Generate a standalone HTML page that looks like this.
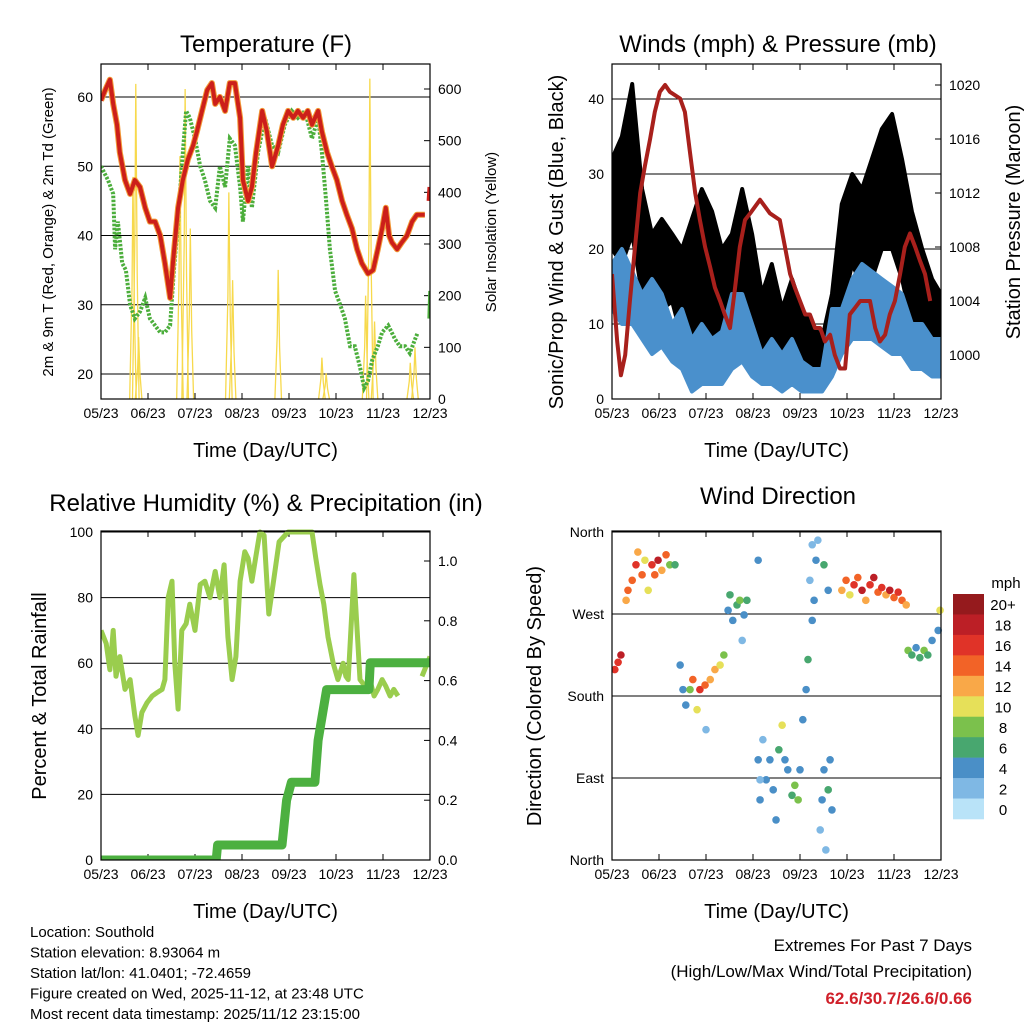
<!DOCTYPE html>
<html><head><meta charset="utf-8"><style>
body{margin:0;background:#fff;}
svg{display:block;font-family:"Liberation Sans",sans-serif;}
</style></head><body>
<svg id="s" width="1024" height="1024" viewBox="0 0 1024 1024"></svg>
<script>
// ---------- DATA ----------
const xTickLabels=["05/23","06/23","07/23","08/23","09/23","10/23","11/23","12/23"];
const tempT=[0,0.09,0.19,0.26,0.34,0.40,0.51,0.62,0.72,0.83,0.94,1.04,1.15,1.26,1.36,1.47,1.53,1.64,1.74,1.85,1.96,2.04,2.15,2.26,2.36,2.43,2.53,2.64,2.74,2.85,2.96,3.02,3.13,3.21,3.30,3.43,3.53,3.64,3.77,3.87,3.98,4.09,4.19,4.30,4.40,4.49,4.62,4.70,4.81,4.91,5.02,5.13,5.23,5.34,5.45,5.55,5.68,5.79,5.89,5.98,6.06,6.13,6.19,6.30,6.40,6.51,6.62,6.72,6.81,6.89];
const tempRed=[59.5,61,62.5,59,56,52,48,46,48,47,44,42,42,40,36,31,36,44,48,51,53,55,58,61,62,59,60,58,62,62,57,48,45,47,52,58,55,50,53,56,58,57,58,57,58,56,58,55,52,50,48,45,43,41,38,36,34.5,35,38,41,44,40,39,38,39,40,42,43,43,43];
const tempEndT=[6.98,7.0];
const tempEndRed=[45,47];
const dewT=[0,0.15,0.26,0.30,0.36,0.45,0.53,0.62,0.72,0.83,0.94,1.04,1.15,1.26,1.36,1.47,1.55,1.64,1.72,1.81,1.89,2.00,2.11,2.21,2.32,2.43,2.53,2.64,2.74,2.85,2.96,3.02,3.13,3.21,3.34,3.49,3.64,3.77,3.91,4.06,4.19,4.34,4.49,4.62,4.70,4.79,4.87,4.98,5.09,5.19,5.30,5.40,5.51,5.60,5.68,5.77,5.89,5.98,6.11,6.26,6.36,6.47,6.57,6.68,6.74];
const dewRed=[50,48,46,38,42,36,35,30,28,29,31,28,27,26,26,27,35,42,50,58,57,54,50,48,45,44,50,47,54,53,47,42,50,44,52,57,53,52,56,58,57,58,54,57,52,45,38,32,30,28,24,24,21,18,19,22,24,26,27,25,24,24,23,25,26];
const dewEndT=[6.98,7.0];
const dewEndVal=[28,32];
const sunT=[0.68,0.74,0.80,1.68,1.79,1.90,2.72,2.80,3.77,4.70,4.79,5.63,5.72,5.82,6.58,6.68];
const sunV=[430,610,120,470,600,330,400,230,250,80,50,200,620,150,70,100];
const windT=[0,0.21,0.43,0.64,0.85,1.06,1.28,1.49,1.70,1.91,2.13,2.34,2.55,2.77,2.98,3.19,3.40,3.62,3.83,4.04,4.26,4.47,4.68,4.89,5.11,5.32,5.53,5.74,5.96,6.17,6.38,6.60,6.81,7.0];
const gustLow=[20,18,22,14,14,12,13,8,4,3,4,4,6,10,8,5,4,3,4,3,2,2,4,12,18,15,16,20,20,16,10,6,4,5];
const gustHigh=[32,35,42,28,22,24,22,20,24,28,25,20,22,28,22,14,18,12,16,12,10,8,14,26,30,28,32,36,38,32,25,20,16,14];
const windLow=[12,10,10,8,6,7,5,4,1,2,2,2,4,5,3,2,2,1,2,1,1,1,3,6,8,8,8,7,6,6,4,4,3,3];
const windHigh=[18,20,17,14,16,14,10,12,8,10,8,9,14,14,10,6,8,6,8,5,4,4,12,12,16,18,17,16,15,14,10,10,8,8];
const presT=[0,0.11,0.19,0.28,0.38,0.49,0.60,0.70,0.81,0.91,1.02,1.13,1.23,1.45,1.55,1.66,1.77,1.87,1.98,2.09,2.19,2.30,2.40,2.51,2.62,2.72,2.83,2.94,3.15,3.36,3.57,3.68,3.79,3.89,4.00,4.11,4.21,4.32,4.43,4.53,4.64,4.74,4.85,4.96,5.06,5.17,5.28,5.38,5.49,5.60,5.70,5.81,5.91,6.02,6.13,6.23,6.34,6.45,6.55,6.66,6.77];
const presVal=[1006,1001,998.5,1000,1004,1008,1012,1014,1016,1018,1019.5,1020,1019.5,1019,1018,1015,1012,1010,1008,1006.5,1005,1004,1003,1002,1005,1008,1010,1010.5,1011.5,1010.5,1010,1008,1006,1005,1004,1003,1003,1002,1002,1001,1001.5,1000,999,999,1003,1003.5,1004,1004,1004,1002,1001,1001.5,1003,1004,1006,1008,1009,1008,1007,1006,1004];
const rhT=[0,0.11,0.19,0.26,0.32,0.40,0.51,0.62,0.72,0.79,0.87,0.98,1.09,1.19,1.30,1.36,1.43,1.51,1.57,1.64,1.72,1.81,1.89,2.00,2.11,2.21,2.32,2.43,2.53,2.62,2.70,2.79,2.87,2.96,3.06,3.13,3.21,3.30,3.38,3.47,3.57,3.68,3.79,3.98,4.19,4.40,4.49,4.57,4.66,4.74,4.83,4.94,5.04,5.15,5.21,5.26,5.38,5.51,5.62,5.72,5.81,5.89,5.98,6.06,6.15,6.23,6.32];
const rhVal=[70,66,58,70,56,62,52,55,44,38,45,48,50,51,52,55,80,85,60,46,70,72,78,70,84,85,80,88,80,90,68,55,62,85,94,92,85,93,100,99,75,86,97,100,100,100,100,92,84,78,68,60,55,60,56,55,87,55,53,55,50,52,55,53,50,52,50];
const rhEndT=[6.83,7.0];
const rhEndVal=[56,62];
const rainT=[0,2.45,2.48,3.85,3.95,4.05,4.55,4.62,4.80,5.70,5.73,7.0];
const rainVal=[0,0,0.05,0.05,0.2,0.26,0.26,0.4,0.57,0.57,0.66,0.66];
const dirT=[0.06,0.13,0.19,0.30,0.34,0.43,0.51,0.55,0.64,0.70,0.77,0.85,0.91,0.98,1.06,1.15,1.23,1.34,1.45,1.51,1.57,1.66,1.72,1.81,1.87,1.98,2.09,2.19,2.30,2.38,2.00,2.47,2.51,2.57,2.66,2.72,2.81,2.77,2.87,3.11,3.11,3.15,3.21,3.28,3.36,3.43,3.49,3.55,3.62,3.68,3.74,3.83,3.89,3.96,4.00,4.06,4.13,4.17,4.21,4.26,4.30,4.34,4.38,4.43,4.47,4.51,4.55,4.60,4.64,4.51,4.60,4.68,4.89,4.98,5.06,5.15,5.23,5.32,5.40,5.49,5.57,5.66,5.74,5.83,5.91,6.00,6.09,6.17,6.26,6.30,6.38,6.47,6.55,6.64,6.72,6.81,6.94,6.98,3.15,4.26];
const dirDeg=[209,217,225,285,296,307,324,338,313,329,296,324,313,329,318,335,324,324,214,187,170,187,198,165,187,192,198,209,214,225,143,274,291,263,280,285,269,241,285,329,110,66,132,88,110,77,44,121,148,110,99,71,82,66,99,154,187,220,307,346,285,329,351,33,66,99,11,77,110,324,296,55,296,307,291,302,310,296,285,302,310,294,299,291,296,288,294,285,280,230,225,233,222,230,225,241,252,274,88,263];
const dirSpd=[16,16,18,12,14,14,16,12,14,10,10,16,14,18,12,14,8,6,4,4,3,8,14,10,16,14,12,12,10,8,2,4,6,3,6,8,4,2,6,4,4,3,2,4,3,4,3,6,10,4,3,6,8,8,4,3,4,5,2,2,3,4,1,2,3,4,2,6,3,6,4,4,12,14,10,16,14,18,12,16,18,14,16,12,18,14,16,14,12,8,6,4,6,8,6,4,4,10,2,4];
const cbLabels=["20+","18","16","14","12","10","8","6","4","2","0"];
const cbColors=["#951a1d","#bc1f26","#e03328","#f26327","#f9a848","#e6e059","#7bc14c","#48a76f","#4a8fc7","#7fb8e4","#b9e3f8"];

// ---------- HELPERS ----------
const S=document.getElementById('s');const NS="http://www.w3.org/2000/svg";
function el(tag,at,parent){const e=document.createElementNS(NS,tag);for(const k in at)e.setAttribute(k,at[k]);(parent||S).appendChild(e);return e;}
function txt(x,y,s,size,anchor,rot,fill,weight){const a={x:x,y:y,'font-size':size,'text-anchor':anchor||'middle',fill:fill||'#000'};if(rot)a.transform=`rotate(${rot} ${x} ${y})`;if(weight)a['font-weight']=weight;const t=el('text',a);t.textContent=s;return t;}
function lin(d0,d1,p0,p1){return v=>p0+(v-d0)/(d1-d0)*(p1-p0);}
function pathOf(ts,vs,X,Y){return ts.map((t,i)=>(i?'L':'M')+X(t).toFixed(1)+','+Y(vs[i]).toFixed(1)).join('');}
const defs=el('defs',{});
let clipN=0;
function clipGroup(x0,x1,y0,y1,name){const id='c'+(clipN++);const cp=el('clipPath',{id:id},defs);el('rect',{x:x0,y:y0,width:x1-x0,height:y1-y0},cp);
  const g=el('g',{'clip-path':`url(#${id})`});return g;}

function frame(x0,x1,y0,y1,name){
  const g=el('g',{});
  const X=lin(0,7,x0,x1);
  xTickLabels.forEach((l,i)=>{const x=X(i);el('line',{x1:x,x2:x,y1:y1,y2:y1-6,stroke:'#000'},g);el('line',{x1:x,x2:x,y1:y0,y2:y0+6,stroke:'#000'},g);
    const t=txt(x,y1+19,l,14);});
  const xt=txt((x0+x1)/2,y1+58,'Time (Day/UTC)',20);
  return X;
}
function border(x0,x1,y0,y1){const r=el('rect',{x:x0,y:y0,width:x1-x0,height:y1-y0,fill:'none',stroke:'#000','stroke-width':1.2});}
function grid(x0,x1,Y,vals,labels,side){
  vals.forEach((v,i)=>{const y=Y(v);
    if(side==='L'){el('line',{x1:x0,x2:x1,y1:y,y2:y,stroke:'#000','stroke-width':1});
      const t=txt(x0-8,y+5,labels[i],14,'end');}
    else{el('line',{x1:x1,x2:x1-6,y1:y,y2:y,stroke:'#000'});
      const t=txt(x1+8,y+5,labels[i],14,'start');}
  });
}

// ---------- PANEL 1: TEMPERATURE ----------
{const x0=101,x1=430,y0=64,y1=399;
 const X=frame(x0,x1,y0,y1,'temperature-panel');
 const Y=lin(20,60,374,97), Ys=lin(0,600,399,89);
 grid(x0,x1,Y,[20,30,40,50,60],["20","30","40","50","60"],'L');
 grid(x0,x1,Ys,[0,100,200,300,400,500,600],["0","100","200","300","400","500","600"],'R');
 const gs=clipGroup(x0,x1,y0,y1,'solar-insolation-series');
 sunT.forEach((t,i)=>{el('path',{d:`M${X(t-0.07)},${Ys(0)}L${X(t-0.02)},${Ys(sunV[i]*0.5)}L${X(t)},${Ys(sunV[i])}L${X(t+0.03)},${Ys(sunV[i]*0.4)}L${X(t+0.07)},${Ys(0)}`,fill:'none',stroke:'#f7d94c','stroke-width':1.3},gs);});
 const gc=clipGroup(x0,x1,y0,y1,'temperature-series-group');
 let p=el('path',{d:pathOf(dewT,dewRed,X,Y),fill:'none',stroke:'#4cae3c','stroke-width':4,'stroke-dasharray':'2.5 1.5'},gc);
 p=el('path',{d:pathOf(dewEndT,dewEndVal,X,Y),fill:'none',stroke:'#4cae3c','stroke-width':3.5},gc);
 p=el('path',{d:pathOf(tempT,tempRed,X,Y),fill:'none',stroke:'#f29a38','stroke-width':6,'stroke-linejoin':'round'},gc);
 p=el('path',{d:pathOf(tempT,tempRed,X,Y),fill:'none',stroke:'#cc1f1a','stroke-width':4,'stroke-linejoin':'round'},gc);
 p=el('path',{d:pathOf(tempEndT,tempEndRed,X,Y),fill:'none',stroke:'#cc1f1a','stroke-width':5},gc);
 border(x0,x1,y0,y1);
 let t=txt(266,52,'Temperature (F)',24);
 t=txt(53,232,'2m & 9m T (Red, Orange) & 2m Td (Green)',15,'middle',-90);
 t=txt(496,232,'Solar Insolation (Yellow)',15,'middle',-90);
}

// ---------- PANEL 2: WINDS ----------
{const x0=612,x1=941,y0=64,y1=399;
 const X=frame(x0,x1,y0,y1,'winds-panel');
 const Y=lin(0,40,399,99), Yp=lin(1000,1020,355,85);
 grid(x0,x1,Y,[0,10,20,30,40],["0","10","20","30","40"],'L');
 grid(x0,x1,Yp,[1000,1004,1008,1012,1016,1020],["1000","1004","1008","1012","1016","1020"],'R');
 const gc=clipGroup(x0,x1,y0,y1,'winds-series-group');
 const band=(lo,hi,col,name)=>{const d=pathOf(windT,hi,X,Y)+windT.slice().reverse().map((tt,i)=>'L'+X(tt).toFixed(1)+','+Y(lo[lo.length-1-i]).toFixed(1)).join('')+'Z';
   const e=el('path',{d:d,fill:col,stroke:col,'stroke-width':4,'stroke-linejoin':'round'},gc);};
 band(gustLow,gustHigh,'#000','wind-gust-series');
 band(windLow,windHigh,'#4a90cc','wind-speed-series');
 const p=el('path',{d:pathOf(presT,presVal,X,Yp),fill:'none',stroke:'#a8201c','stroke-width':4,'stroke-linejoin':'round'},gc);
 border(x0,x1,y0,y1);
 let t=txt(778,52,'Winds (mph) & Pressure (mb)',24);
 t=txt(563,242,'Sonic/Prop Wind & Gust (Blue, Black)',20,'middle',-90);
 t=txt(1020,222,'Station Pressure (Maroon)',20,'middle',-90);
}

// ---------- PANEL 3: RH & PRECIP ----------
{const x0=101,x1=430,y0=531,y1=860;
 const X=frame(x0,x1,y0,y1,'humidity-panel');
 const Y=lin(0,100,860,532), Yr=lin(0,1,860,561);
 grid(x0,x1,Y,[0,20,40,60,80,100],["0","20","40","60","80","100"],'L');
 grid(x0,x1,Yr,[0,0.2,0.4,0.6,0.8,1.0],["0.0","0.2","0.4","0.6","0.8","1.0"],'R');
 const gc=clipGroup(x0,x1,y0-3,y1,'humidity-series-group');
 let p=el('path',{d:pathOf(rhT,rhVal,X,Y),fill:'none',stroke:'#9acd4e','stroke-width':5,'stroke-linejoin':'round'},gc);
 p=el('path',{d:pathOf(rhEndT,rhEndVal,X,Y),fill:'none',stroke:'#9acd4e','stroke-width':5},gc);
 p=el('path',{d:pathOf(rainT,rainVal,X,Yr),fill:'none',stroke:'#4cb040','stroke-width':9,'stroke-linejoin':'round'},gc);
 border(x0,x1,y0,y1);
 let t=txt(266,511,'Relative Humidity (%) & Precipitation (in)',24);
 t=txt(46,696,'Percent & Total Rainfall',20,'middle',-90);
}

// ---------- PANEL 4: WIND DIRECTION ----------
{const x0=612,x1=941,y0=531,y1=860;
 const X=frame(x0,x1,y0,y1,'wind-direction-panel');
 const Y=lin(0,360,860,532);
 grid(x0,x1,Y,[0,90,180,270,360],["North","East","South","West","North"],'L');
 const gc=clipGroup(x0,x1+4,y0,y1,'direction-points-group');
 dirT.forEach((tt,i)=>{const idx=10-Math.min(10,Math.round(dirSpd[i]/2));
   const c=el('circle',{cx:X(tt),cy:Y(dirDeg[i]),r:3.8,fill:cbColors[idx]},gc);
   
   });
 border(x0,x1,y0,y1);
 let t=txt(778,504,'Wind Direction',24);
 t=txt(541,696,'Direction (Colored By Speed)',20,'middle',-90);
 const g=el('g',{});
 const bh=(819-594)/11;
 cbColors.forEach((c,i)=>{el('rect',{x:953,y:594+i*bh,width:31,height:bh+0.3,fill:c},g);
   const l=txt(1003,594+i*bh+bh/2+6,cbLabels[i],15,'middle');});
 t=txt(1006,588,'mph',15,'middle');
}

// ---------- FOOTER ----------
const info=["Location: Southold","Station elevation: 8.93064 m","Station lat/lon: 41.0401; -72.4659","Figure created on Wed, 2025-11-12, at 23:48 UTC","Most recent data timestamp: 2025/11/12 23:15:00"];
info.forEach((s,i)=>{const t=txt(30,937+i*20.5,s,15,'start');});
let t=txt(972,951,'Extremes For Past 7 Days',17,'end');
t=txt(972,977,'(High/Low/Max Wind/Total Precipitation)',17,'end');
t=txt(972,1004,'62.6/30.7/26.6/0.66',17,'end',0,'#d0202a','bold');
</script>
</body></html>
